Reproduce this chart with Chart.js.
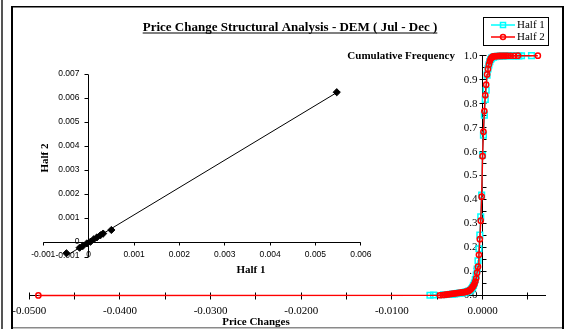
<!DOCTYPE html>
<html>
<head>
<meta charset="utf-8">
<title>Price Change Structural Analysis - DEM ( Jul - Dec )</title>
<script src="https://cdn.jsdelivr.net/npm/chart.js@4/dist/chart.umd.min.js"></script>
<style>
  html, body { margin: 0; padding: 0; background: #fff; }
  #wrap { position: relative; width: 569px; height: 329px; overflow: hidden; }
  #wrap canvas { position: absolute; left: 0; top: 0; }
</style>
</head>
<body>
<div id="wrap">
  <canvas id="cdf" width="569" height="329"></canvas>
  <canvas id="pairs" width="569" height="329"></canvas>
</div>
<script>
// ---- Cumulative frequency of price changes, first half (Jul - Sep) ----
const half1Changes = [
  -0.0058, -0.0054, -0.0043, -0.0038, -0.0035, -0.0033, -0.0031, -0.0029, -0.0027, -0.0025,
  -0.0023, -0.0021, -0.0019, -0.0017, -0.0015, -0.0013, -0.0012, -0.0011, -0.0010, -0.0009,
  -0.0008, -0.0007, -0.0006, -0.0005, -0.0004, -0.0003, -0.0002, -0.0001, 0.0000, 0.0001,
  0.0002, 0.0003, 0.0004, 0.0005, 0.0006, 0.0007, 0.0008, 0.0009, 0.0010, 0.0012,
  0.0014, 0.0016, 0.0019, 0.0022, 0.0026, 0.0030, 0.0034, 0.0037, 0.0040, 0.0043, 0.0054
];
const half1Cumulative = [
  0.001, 0.002, 0.003, 0.004, 0.005, 0.006, 0.007, 0.008, 0.009, 0.010,
  0.011, 0.012, 0.014, 0.016, 0.019, 0.023, 0.028, 0.034, 0.042, 0.052,
  0.066, 0.085, 0.110, 0.145, 0.195, 0.252, 0.328, 0.419, 0.585, 0.669,
  0.752, 0.818, 0.856, 0.919, 0.945, 0.962, 0.975, 0.984, 0.990, 0.994,
  0.996, 0.997, 0.998, 0.998, 0.999, 0.999, 0.999, 0.9995, 0.9995, 0.9997, 1.000
];

// ---- Cumulative frequency of price changes, second half (Oct - Dec) ----
const half2Changes = [
  -0.0490, -0.0047, -0.0044, -0.0042, -0.0040, -0.0038, -0.0036, -0.0034, -0.0032, -0.0030,
  -0.0028, -0.0026, -0.0024, -0.0022, -0.0020, -0.0018, -0.0016, -0.0015, -0.0014, -0.0013,
  -0.0012, -0.0011, -0.0010, -0.0009, -0.0008, -0.0007, -0.0006, -0.0005, -0.0004, -0.0003,
  -0.0002, -0.0001, 0.0000, 0.0001, 0.0002, 0.0003, 0.0004, 0.0005, 0.0006, 0.0007,
  0.0008, 0.0009, 0.0010, 0.0011, 0.0012, 0.0014, 0.0016, 0.0018, 0.0020, 0.0022,
  0.0024, 0.0026, 0.0028, 0.0031, 0.0035, 0.0039, 0.0061
];
const half2Cumulative = [
  0.0005, 0.001, 0.002, 0.003, 0.004, 0.005, 0.006, 0.007, 0.008, 0.009,
  0.010, 0.011, 0.012, 0.013, 0.014, 0.016, 0.018, 0.020, 0.023, 0.026,
  0.030, 0.035, 0.041, 0.048, 0.058, 0.072, 0.095, 0.120, 0.170, 0.235,
  0.312, 0.412, 0.581, 0.683, 0.769, 0.835, 0.879, 0.922, 0.945, 0.963,
  0.977, 0.987, 0.992, 0.995, 0.997, 0.998, 0.9985, 0.999, 0.999, 0.9993,
  0.9995, 0.9995, 0.9997, 0.9997, 0.9998, 0.9999, 1.000
];

// ---- Main axis ticks ----
const priceTicks = [-0.05, -0.04, -0.03, -0.02, -0.01, 0];
const priceTickLabels = ['-0.0500', '-0.0400', '-0.0300', '-0.0200', '-0.0100', '0.0000'];
const freqTicks = [0, 0.1, 0.2, 0.3, 0.4, 0.5, 0.6, 0.7, 0.8, 0.9, 1.0];
const freqTickLabels = ['0.0', '0.1', '0.2', '0.3', '0.4', '0.5', '0.6', '0.7', '0.8', '0.9', '1.0'];

// ---- Half 1 against Half 2 ----
const pairHalf1 = [-0.00049, -0.00020, -0.00013, -0.00004, 0.00004, 0.00011, 0.00018, 0.00026, 0.00032, 0.00050, 0.00547];
const pairHalf2 = [-0.00044, -0.00021, -0.00014, -0.00003, 0.00004, 0.00014, 0.00022, 0.00031, 0.00038, 0.00053, 0.00627];
const pairXTicks = [-0.001, 0, 0.001, 0.002, 0.003, 0.004, 0.005, 0.006];
const pairXTickLabels = ['-0.001', '0', '0.001', '0.002', '0.003', '0.004', '0.005', '0.006'];
const pairYTicks = [-0.0006, 0, 0.001, 0.002, 0.003, 0.004, 0.005, 0.006, 0.007];
const pairYTickLabels = ['-0.001', '0', '0.001', '0.002', '0.003', '0.004', '0.005', '0.006', '0.007'];

const SERIF = '"Liberation Serif", "Times New Roman", serif';
const SANS = '"Liberation Sans", Arial, sans-serif';
const CYAN = '#00FFFF';
const RED = '#FF0000';

const toPoints = (xs, ys) => xs.map((v, i) => ({ x: v, y: ys[i] }));

// least-squares trend of Half 2 on Half 1
function trend(xs, ys) {
  const n = xs.length;
  const mx = xs.reduce((a, b) => a + b, 0) / n;
  const my = ys.reduce((a, b) => a + b, 0) / n;
  let sxy = 0, sxx = 0;
  for (let i = 0; i < n; i++) { sxy += (xs[i] - mx) * (ys[i] - my); sxx += (xs[i] - mx) ** 2; }
  const slope = sxy / sxx;
  const icpt = my - slope * mx;
  const lo = Math.min(...xs), hi = Math.max(...xs);
  return [{ x: lo, y: icpt + slope * lo }, { x: hi, y: icpt + slope * hi }];
}

const crisp = v => Math.floor(v) + 0.5;

// frame, title, legend and axes of the cumulative chart
const cdfDecor = {
  id: 'cdfDecor',
  beforeDraw(chart) {
    const ctx = chart.ctx;
    ctx.save();
    ctx.fillStyle = '#fff';
    ctx.fillRect(0, 0, chart.width, chart.height);
    ctx.fillStyle = '#555';
    ctx.fillRect(1, 0, 2, chart.height);
    ctx.fillStyle = '#000';
    ctx.fillRect(11, 6, 553, 1.5);
    ctx.fillRect(11, 6, 2, 323);
    ctx.fillRect(562, 6, 2, 323);
    ctx.fillStyle = '#8a8a8a';
    ctx.fillRect(13, 327, 549, 1.5);

    // title
    ctx.fillStyle = '#000';
    ctx.font = 'bold 13px ' + SERIF;
    ctx.textAlign = 'center';
    ctx.textBaseline = 'alphabetic';
    const title = 'Price Change Structural Analysis - DEM ( Jul - Dec )';
    const tw = ctx.measureText(title).width;
    ctx.fillText(title, 290, 31);
    ctx.fillRect(290 - tw / 2, 32.5, tw, 1);
    ctx.restore();
  },
  beforeDatasetsDraw(chart) {
    const { ctx } = chart;
    const xs = chart.scales.x, ys = chart.scales.y;
    const x0 = crisp(xs.getPixelForValue(0));
    const y0 = crisp(ys.getPixelForValue(0));
    ctx.save();
    ctx.strokeStyle = '#000';
    ctx.lineWidth = 1;
    ctx.beginPath();
    // horizontal axis
    ctx.moveTo(xs.getPixelForValue(xs.min), y0);
    ctx.lineTo(xs.getPixelForValue(xs.max), y0);
    for (let v = -0.05; v <= 0.0051; v += 0.005) {
      const px = crisp(xs.getPixelForValue(v));
      ctx.moveTo(px, y0 - 3); ctx.lineTo(px, y0 + 4);
    }
    // vertical axis
    ctx.moveTo(x0, ys.getPixelForValue(0));
    ctx.lineTo(x0, ys.getPixelForValue(1));
    for (let v = 0; v <= 1.0001; v += 0.05) {
      const py = crisp(ys.getPixelForValue(v));
      const major = Math.abs(v * 10 - Math.round(v * 10)) < 1e-6;
      ctx.moveTo(major ? x0 - 3 : x0, py); ctx.lineTo(x0 + 4, py);
    }
    ctx.stroke();

    ctx.fillStyle = '#000';
    ctx.font = '11px ' + SERIF;
    ctx.textAlign = 'center';
    ctx.textBaseline = 'middle';
    priceTicks.forEach((v, i) => ctx.fillText(priceTickLabels[i], xs.getPixelForValue(v), 311));
    ctx.textAlign = 'right';
    freqTicks.forEach((v, i) => ctx.fillText(freqTickLabels[i], x0 - 5, ys.getPixelForValue(v)));

    ctx.font = 'bold 11px ' + SERIF;
    ctx.fillText('Cumulative Frequency', 455, ys.getPixelForValue(1));
    ctx.textAlign = 'center';
    ctx.fillText('Price Changes', 256, 322);
    ctx.restore();
  },
  afterDraw(chart) {
    const ctx = chart.ctx;
    ctx.save();
    ctx.strokeStyle = '#000';
    ctx.lineWidth = 1;
    ctx.strokeRect(483.5, 17.5, 65, 28);
    const rows = [
      { y: 25, color: CYAN, style: 'rect', text: 'Half 1' },
      { y: 37, color: RED, style: 'circle', text: 'Half 2' }
    ];
    ctx.font = '11px ' + SERIF;
    ctx.textAlign = 'left';
    ctx.textBaseline = 'middle';
    rows.forEach(r => {
      ctx.strokeStyle = r.color;
      ctx.lineWidth = 1.5;
      ctx.beginPath();
      ctx.moveTo(491, r.y); ctx.lineTo(515, r.y);
      ctx.stroke();
      ctx.beginPath();
      if (r.style === 'rect') ctx.rect(500.5, r.y - 2.5, 5, 5);
      else ctx.arc(503, r.y, 2.5, 0, Math.PI * 2);
      ctx.stroke();
      ctx.fillStyle = '#000';
      ctx.fillText(r.text, 517, r.y + 0.5);
    });
    ctx.restore();
  }
};

new Chart(document.getElementById('cdf'), {
  type: 'scatter',
  data: {
    datasets: [
      {
        label: 'Half 1',
        data: toPoints(half1Changes, half1Cumulative),
        showLine: true,
        borderColor: CYAN,
        borderWidth: 1.5,
        pointStyle: 'rect',
        pointRadius: 4,
        pointBorderWidth: 1.5,
        pointBorderColor: CYAN,
        pointBackgroundColor: 'rgba(0,0,0,0)',
        clip: false,
        order: 2
      },
      {
        label: 'Half 2',
        data: toPoints(half2Changes, half2Cumulative),
        showLine: true,
        borderColor: RED,
        borderWidth: 1.5,
        pointStyle: 'circle',
        pointRadius: 2.6,
        pointBorderWidth: 1.5,
        pointBorderColor: RED,
        pointBackgroundColor: 'rgba(0,0,0,0)',
        clip: false,
        order: 1
      }
    ]
  },
  options: {
    responsive: false,
    animation: false,
    devicePixelRatio: 1,
    layout: { padding: { left: 29.3, right: 23, top: 55.7, bottom: 33.5 } },
    plugins: { legend: { display: false }, tooltip: { enabled: false } },
    scales: {
      x: { type: 'linear', min: -0.05, max: 0.007, display: false },
      y: { type: 'linear', min: 0, max: 1, display: false }
    }
  },
  plugins: [cdfDecor]
});

// axes of the Half 1 / Half 2 panel
const pairDecor = {
  id: 'pairDecor',
  beforeDatasetsDraw(chart) {
    const { ctx } = chart;
    const xs = chart.scales.x, ys = chart.scales.y;
    const x0 = crisp(xs.getPixelForValue(0));
    const y0 = crisp(ys.getPixelForValue(0));
    ctx.save();
    ctx.strokeStyle = '#000';
    ctx.lineWidth = 1;
    ctx.beginPath();
    ctx.moveTo(xs.getPixelForValue(xs.min), y0);
    ctx.lineTo(xs.getPixelForValue(xs.max), y0);
    pairXTicks.forEach(v => {
      const px = crisp(xs.getPixelForValue(v));
      ctx.moveTo(px, y0); ctx.lineTo(px, y0 + 3);
    });
    ctx.moveTo(x0, ys.getPixelForValue(ys.min));
    ctx.lineTo(x0, ys.getPixelForValue(ys.max));
    pairYTicks.forEach(v => {
      const py = crisp(ys.getPixelForValue(v));
      ctx.moveTo(x0 - 4, py); ctx.lineTo(x0, py);
    });
    ctx.stroke();

    ctx.fillStyle = '#000';
    ctx.font = '8.5px ' + SANS;
    ctx.textAlign = 'center';
    ctx.textBaseline = 'middle';
    pairXTicks.forEach((v, i) => ctx.fillText(pairXTickLabels[i], xs.getPixelForValue(v), 255));
    ctx.textAlign = 'right';
    pairYTicks.forEach((v, i) => ctx.fillText(pairYTickLabels[i], x0 - 9, ys.getPixelForValue(v) - 1));

    ctx.font = 'bold 11px ' + SERIF;
    ctx.textAlign = 'center';
    ctx.fillText('Half 1', 251, 270);
    ctx.translate(45, 158);
    ctx.rotate(-Math.PI / 2);
    ctx.fillText('Half 2', 0, 0);
    ctx.restore();
  }
};

new Chart(document.getElementById('pairs'), {
  type: 'scatter',
  data: {
    datasets: [
      {
        label: 'Half 1 vs Half 2',
        data: toPoints(pairHalf1, pairHalf2),
        pointStyle: 'rectRot',
        pointRadius: 3.6,
        pointBorderWidth: 1,
        pointBackgroundColor: '#000',
        pointBorderColor: '#000',
        clip: false,
        order: 1
      },
      {
        label: 'Trend',
        data: trend(pairHalf1, pairHalf2),
        showLine: true,
        borderColor: '#000',
        borderWidth: 1,
        pointRadius: 0,
        clip: false,
        order: 2
      }
    ]
  },
  options: {
    responsive: false,
    animation: false,
    devicePixelRatio: 1,
    layout: { padding: { left: 43.3, right: 208.2, top: 74.7, bottom: 71.9 } },
    plugins: { legend: { display: false }, tooltip: { enabled: false } },
    scales: {
      x: { type: 'linear', min: -0.001, max: 0.006, display: false },
      y: { type: 'linear', min: -0.0006, max: 0.007, display: false }
    }
  },
  plugins: [pairDecor]
});
</script>
</body>
</html>
